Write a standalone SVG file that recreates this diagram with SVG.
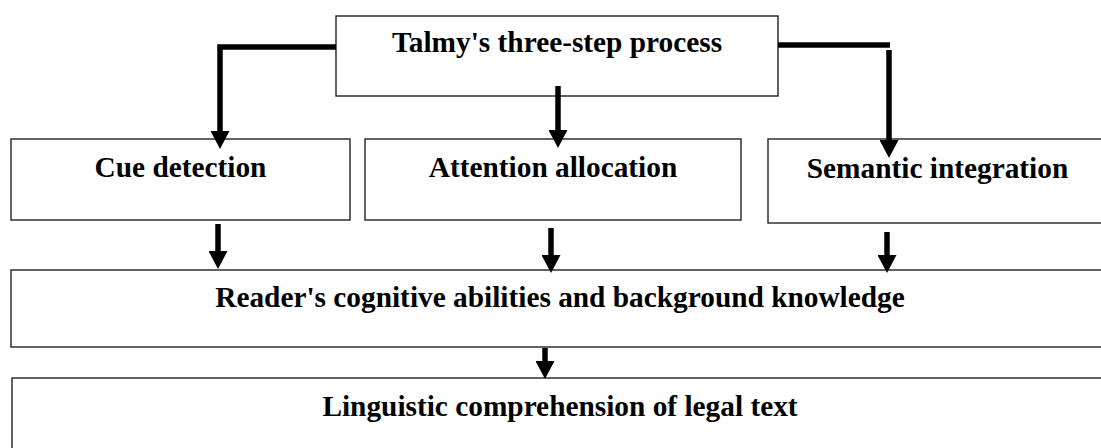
<svg xmlns="http://www.w3.org/2000/svg" width="1101" height="448" viewBox="0 0 1101 448">
<style>
.box{fill:#fff;stroke:#222;stroke-width:1.4}
.t{font-family:"Liberation Serif","Times New Roman",serif;font-weight:bold;font-size:29.33px;fill:#000;text-anchor:middle}
.c{fill:none;stroke:#000;stroke-width:5.5}
</style>
<defs>
<marker id="ah" markerUnits="userSpaceOnUse" markerWidth="18" markerHeight="19" viewBox="0 0 18 19" refX="0" refY="9.5" orient="auto">
<path d="M0,0 L18,9.5 L0,19 Z" fill="#000"/>
</marker>
</defs>
<rect width="1101" height="448" fill="#fff"/>
<g id="n-top"><rect class="box" x="336" y="16" width="442" height="80"/><text class="t" x="557" y="52">Talmy's three-step process</text></g>
<g id="n-cue"><rect class="box" x="11" y="139" width="339" height="81"/><text class="t" x="180.5" y="177">Cue detection</text></g>
<g id="n-att"><rect class="box" x="365" y="139" width="376" height="81"/><text class="t" x="553" y="177">Attention allocation</text></g>
<g id="n-sem"><rect class="box" x="768" y="139" width="345" height="84"/><text class="t" x="937.5" y="178">Semantic integration</text></g>
<g id="n-reader"><rect class="box" x="11" y="270" width="1100" height="77"/><text class="t" x="560" y="307">Reader's cognitive abilities and background knowledge</text></g>
<g id="n-ling"><rect class="box" x="12" y="378" width="1100" height="80"/><text class="t" x="560" y="416">Linguistic comprehension of legal text</text></g>
<g id="connectors">
<path class="c" d="M336,47 H220 V131" marker-end="url(#ah)"/>
<path class="c" d="M558,86 V130" marker-end="url(#ah)"/>
<path class="c" d="M778,45 H890"/>
<path class="c" d="M889,50 V140" marker-end="url(#ah)"/>
<path class="c" d="M218,224 V251" marker-end="url(#ah)"/>
<path class="c" d="M551,228 V255" marker-end="url(#ah)"/>
<path class="c" d="M887,232 V255" marker-end="url(#ah)"/>
<path class="c" d="M545,348 V361" marker-end="url(#ah)"/>
</g>
</svg>
